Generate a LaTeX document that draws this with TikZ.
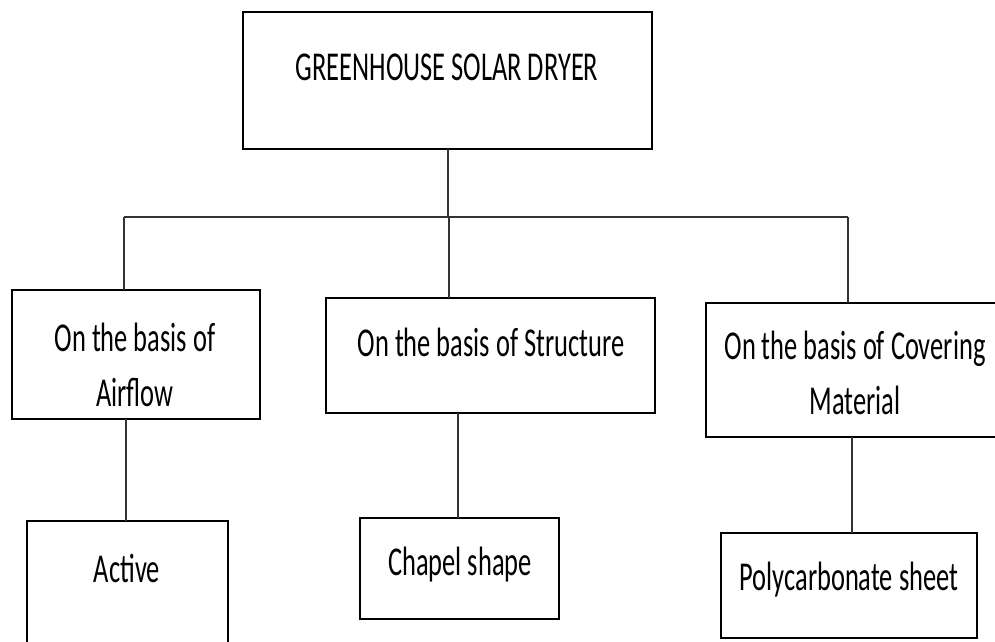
\documentclass[tikz,border=0pt]{standalone}
\usepackage{fontspec}
\setmainfont{Carlito}
\newfontfamily\condfont[FakeStretch=0.645]{Carlito}
\begin{document}
\begin{tikzpicture}[x=1pt,y=-1pt,
  box/.style={draw, line width=2.8pt, inner sep=0pt, outer sep=0pt},
  lbl/.style={font=\condfont\fontsize{41}{55}\selectfont, align=center, inner sep=0pt},
  conn/.style={line width=1.2pt, draw=black!80}]
\useasboundingbox (0,0) rectangle (995,641);
\clip (0,0) rectangle (995,641);
% boxes
\node[box, minimum width=409pt, minimum height=137pt] (b0) at (447.5,80.5) {};
\node[box, minimum width=248pt, minimum height=129pt] (b1) at (136,354.5) {};
\node[box, minimum width=329pt, minimum height=115pt] (b2) at (490.5,355.5) {};
\node[box, minimum width=300pt, minimum height=134pt] (b3) at (856,370) {};
\node[box, minimum width=201pt, minimum height=150pt] (b4) at (127.5,596) {};
\node[box, minimum width=199pt, minimum height=101pt] (b5) at (459.5,568.5) {};
\node[box, minimum width=256pt, minimum height=105pt] (b6) at (849,585.5) {};
% texts
\node[lbl] (t0) at (447,67) {GREENHOUSE SOLAR DRYER};
\node[lbl] (t1) at (135,365) {On the basis of\\Airflow};
\node[lbl] (t2) at (491,342) {On the basis of Structure};
\node[lbl] (t3) at (855,373) {On the basis of Covering\\Material};
\node[lbl] (t4) at (127,568) {Active};
\node[lbl] (t5) at (460,565) {Chapel shape};
\node[lbl] (t6) at (849,580) {Polycarbonate sheet};
% connectors
\coordinate (h0) at (448,217);
\coordinate (h1) at (124,217);
\coordinate (h2) at (449,217);
\coordinate (h3) at (848,217);
\draw[conn] (h0 |- b0.south) -- (h0);
\draw[conn] (h1) -- (h3);
\draw[conn] (h1) -- (h1 |- b1.north);
\draw[conn] (h2) -- (h2 |- b2.north);
\draw[conn] (h3) -- (h3 |- b3.north);
\coordinate (v1) at (126,0);
\coordinate (v2) at (458,0);
\coordinate (v3) at (852,0);
\draw[conn] (v1 |- b1.south) -- (v1 |- b4.north);
\draw[conn] (v2 |- b2.south) -- (v2 |- b5.north);
\draw[conn] (v3 |- b3.south) -- (v3 |- b6.north);
\end{tikzpicture}
\end{document}
